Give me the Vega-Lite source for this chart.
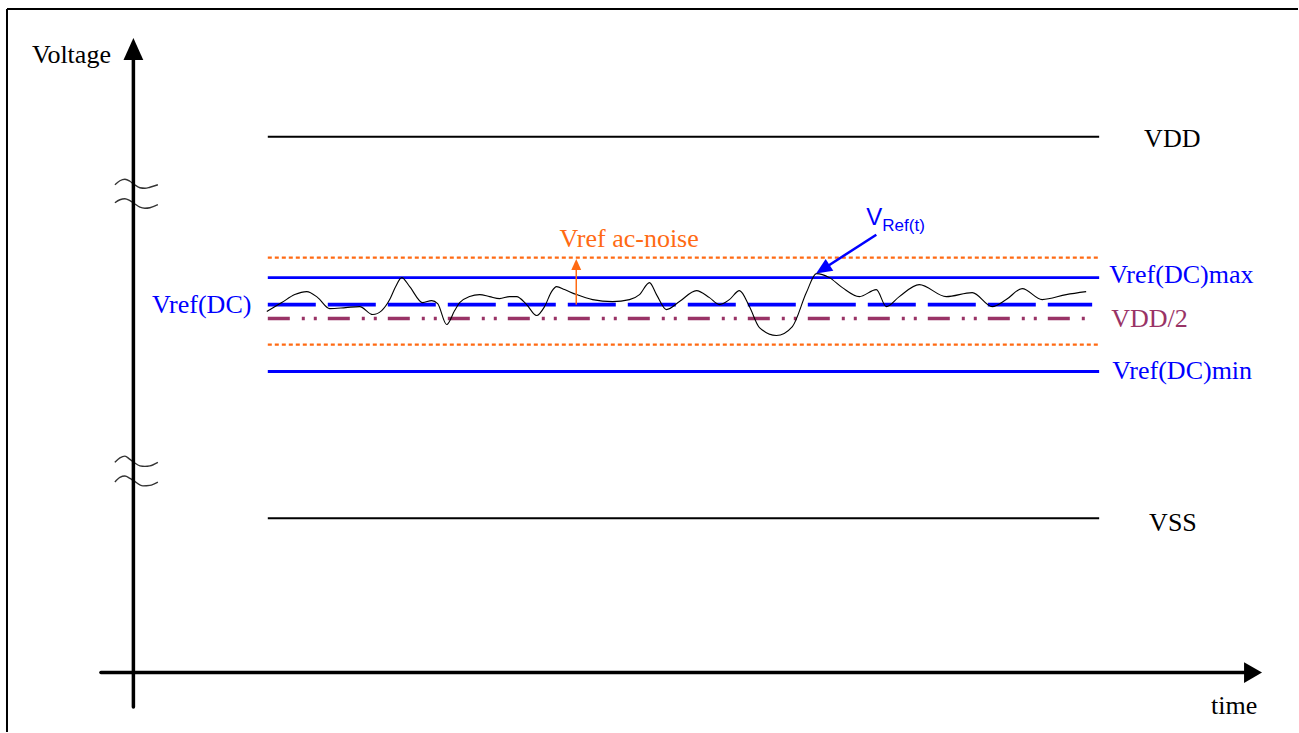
{
  "$schema": "https://vega.github.io/schema/vega-lite/v6.json",
  "width": 1299,
  "height": 733,
  "autosize": {"type": "fit", "contains": "padding"},
  "padding": 0,
  "background": "white",
  "config": {"view": {"stroke": null}},
  "datasets": {
    "levels": [
      {"level": "VDD", "t": 268, "t2": 1100, "v": 137},
      {"level": "VSS", "t": 268, "t2": 1100, "v": 519},
      {"level": "noise_hi", "t": 268, "t2": 1100, "v": 258},
      {"level": "noise_lo", "t": 268, "t2": 1100, "v": 345},
      {"level": "dc_max", "t": 268, "t2": 1100, "v": 278},
      {"level": "dc_min", "t": 268, "t2": 1100, "v": 372},
      {"level": "dc", "t": 268, "t2": 1093, "v": 305},
      {"level": "half", "t": 268, "t2": 1090, "v": 319}
    ],
    "vref": [
      {"t": 267, "v": 312}, {"t": 282, "v": 303}, {"t": 295, "v": 295}, {"t": 307, "v": 292},
      {"t": 318, "v": 298}, {"t": 330, "v": 309}, {"t": 346, "v": 308}, {"t": 360, "v": 307},
      {"t": 373, "v": 315}, {"t": 382, "v": 311}, {"t": 390, "v": 300}, {"t": 396, "v": 287},
      {"t": 402, "v": 278}, {"t": 410, "v": 287}, {"t": 423, "v": 303}, {"t": 432, "v": 301},
      {"t": 438, "v": 304}, {"t": 447, "v": 325}, {"t": 455, "v": 311}, {"t": 460, "v": 303},
      {"t": 470, "v": 297}, {"t": 480, "v": 295}, {"t": 490, "v": 297}, {"t": 500, "v": 299},
      {"t": 510, "v": 297}, {"t": 517, "v": 297}, {"t": 527, "v": 305}, {"t": 537, "v": 316},
      {"t": 545, "v": 307}, {"t": 552, "v": 292}, {"t": 557, "v": 287}, {"t": 565, "v": 290},
      {"t": 577, "v": 295}, {"t": 593, "v": 300}, {"t": 613, "v": 302}, {"t": 630, "v": 300},
      {"t": 640, "v": 295}, {"t": 650, "v": 283}, {"t": 657, "v": 295}, {"t": 667, "v": 310},
      {"t": 680, "v": 302}, {"t": 697, "v": 291}, {"t": 710, "v": 298}, {"t": 720, "v": 305},
      {"t": 730, "v": 300}, {"t": 740, "v": 291}, {"t": 750, "v": 307}, {"t": 760, "v": 328},
      {"t": 777, "v": 336}, {"t": 793, "v": 327}, {"t": 807, "v": 293}, {"t": 817, "v": 274},
      {"t": 830, "v": 278}, {"t": 843, "v": 288}, {"t": 860, "v": 297}, {"t": 877, "v": 290},
      {"t": 887, "v": 307}, {"t": 900, "v": 297}, {"t": 920, "v": 285}, {"t": 947, "v": 297},
      {"t": 973, "v": 293}, {"t": 993, "v": 307}, {"t": 1007, "v": 300}, {"t": 1023, "v": 289},
      {"t": 1043, "v": 300}, {"t": 1067, "v": 295}, {"t": 1087, "v": 292}
    ],
    "breaks": [
      {"id": "a", "t": 115, "v": 185}, {"id": "a", "t": 120, "v": 181}, {"id": "a", "t": 125, "v": 179.5},
      {"id": "a", "t": 130, "v": 181.5}, {"id": "a", "t": 134, "v": 184.5}, {"id": "a", "t": 140, "v": 188},
      {"id": "a", "t": 145, "v": 188.5}, {"id": "a", "t": 150, "v": 187.5}, {"id": "a", "t": 158, "v": 185},
      {"id": "b", "t": 115, "v": 203}, {"id": "b", "t": 120, "v": 200}, {"id": "b", "t": 125, "v": 199},
      {"id": "b", "t": 130, "v": 201}, {"id": "b", "t": 134, "v": 203.5}, {"id": "b", "t": 140, "v": 207.5},
      {"id": "b", "t": 145, "v": 208.5}, {"id": "b", "t": 150, "v": 208}, {"id": "b", "t": 158, "v": 205},
      {"id": "c", "t": 115, "v": 463}, {"id": "c", "t": 120, "v": 458.5}, {"id": "c", "t": 125, "v": 456.7},
      {"id": "c", "t": 130, "v": 460}, {"id": "c", "t": 134, "v": 463}, {"id": "c", "t": 140, "v": 466.5},
      {"id": "c", "t": 145, "v": 467}, {"id": "c", "t": 150, "v": 466.5}, {"id": "c", "t": 158, "v": 463},
      {"id": "d", "t": 115, "v": 482.7}, {"id": "d", "t": 120, "v": 478}, {"id": "d", "t": 125, "v": 476.7},
      {"id": "d", "t": 130, "v": 479}, {"id": "d", "t": 134, "v": 481.5}, {"id": "d", "t": 143, "v": 486.5},
      {"id": "d", "t": 150, "v": 486}, {"id": "d", "t": 158, "v": 482.7}
    ]
  },
  "encoding": {
    "x": {"field": "t", "type": "quantitative", "scale": {"domain": [0, 1299], "nice": false, "zero": false}, "axis": null},
    "y": {"field": "v", "type": "quantitative", "scale": {"domain": [0, 733], "reverse": true, "nice": false, "zero": false}, "axis": null}
  },
  "layer": [
    {"data": {"values": [{"t": 7, "t2": 1299, "v": 9}]}, "mark": {"type": "rule", "color": "black", "strokeWidth": 2}, "encoding": {"x2": {"field": "t2"}}},
    {"data": {"values": [{"t": 7, "v": 9, "v2": 733}]}, "mark": {"type": "rule", "color": "black", "strokeWidth": 2}, "encoding": {"y2": {"field": "v2"}}},
    {"data": {"name": "levels"}, "transform": [{"filter": "datum.level === 'VDD' || datum.level === 'VSS'"}], "mark": {"type": "rule", "color": "black", "strokeWidth": 2}, "encoding": {"x2": {"field": "t2"}}},
    {"data": {"name": "levels"}, "transform": [{"filter": "datum.level === 'noise_hi' || datum.level === 'noise_lo'"}], "mark": {"type": "rule", "color": "#ff6a13", "strokeWidth": 2.2, "strokeDash": [4, 3]}, "encoding": {"x2": {"field": "t2"}}},
    {"data": {"name": "levels"}, "transform": [{"filter": "datum.level === 'dc_max' || datum.level === 'dc_min'"}], "mark": {"type": "rule", "color": "#0000ff", "strokeWidth": 2.8}, "encoding": {"x2": {"field": "t2"}}},
    {"data": {"name": "levels"}, "transform": [{"filter": "datum.level === 'half'"}], "mark": {"type": "rule", "color": "#993366", "strokeWidth": 3.5, "strokeDash": [22, 12, 3, 9, 3, 11]}, "encoding": {"x2": {"field": "t2"}}},
    {"data": {"name": "levels"}, "transform": [{"filter": "datum.level === 'dc'"}], "mark": {"type": "rule", "color": "#0000ff", "strokeWidth": 3.8, "strokeDash": [48, 12]}, "encoding": {"x2": {"field": "t2"}}},
    {"data": {"name": "breaks"}, "mark": {"type": "line", "color": "#333333", "strokeWidth": 1.4, "interpolate": "monotone"}, "encoding": {"detail": {"field": "id"}}},
    {"data": {"values": [{"t": 133.5, "v": 55, "v2": 708}]}, "mark": {"type": "rule", "color": "black", "strokeWidth": 3.5, "strokeCap": "round"}, "encoding": {"y2": {"field": "v2"}}},
    {"data": {"values": [{"t": 101, "t2": 1250, "v": 673.5}]}, "mark": {"type": "rule", "color": "black", "strokeWidth": 3.5, "strokeCap": "round"}, "encoding": {"x2": {"field": "t2"}}},
    {"data": {"values": [{"t": 133.5, "v": 49}]}, "mark": {"type": "point", "filled": true, "opacity": 1, "color": "black", "strokeWidth": 0, "size": 484, "shape": "M0,-1L0.9,1L-0.9,1Z"}},
    {"data": {"values": [{"t": 1254, "v": 673.5}]}, "mark": {"type": "point", "filled": true, "opacity": 1, "color": "black", "strokeWidth": 0, "size": 324, "angle": 90, "shape": "M0,-1L1.15,1L-1.15,1Z"}},
    {"data": {"name": "vref"}, "mark": {"type": "line", "color": "black", "strokeWidth": 1.1, "interpolate": "monotone"}},
    {"data": {"values": [{"t": 576.7, "v": 305, "v2": 268}]}, "mark": {"type": "rule", "color": "#ff6a13", "strokeWidth": 1.5}, "encoding": {"y2": {"field": "v2"}}},
    {"data": {"values": [{"t": 576.7, "v": 264.8}]}, "mark": {"type": "point", "filled": true, "opacity": 1, "color": "#ff6a13", "strokeWidth": 0, "size": 121, "shape": "M0,-1L0.9,1L-0.9,1Z"}},
    {"data": {"values": [{"t": 877, "v": 235, "t2": 823.4, "v2": 269.6}]}, "mark": {"type": "rule", "color": "#0000ff", "strokeWidth": 2.5}, "encoding": {"x2": {"field": "t2"}, "y2": {"field": "v2"}}},
    {"data": {"values": [{"t": 823.4, "v": 269.6}]}, "mark": {"type": "point", "filled": true, "opacity": 1, "color": "#0000ff", "strokeWidth": 0, "size": 256, "angle": 237, "shape": "M0,-1L0.875,1L-0.875,1Z"}},
    {"data": {"values": [
      {"label": "Voltage", "t": 32, "v": 63},
      {"label": "time", "t": 1212, "v": 715},
      {"label": "VDD", "t": 1145, "v": 147},
      {"label": "VSS", "t": 1150, "v": 532}
    ]}, "mark": {"type": "text", "align": "left", "baseline": "alphabetic", "font": "Liberation Serif", "fontSize": 26, "color": "black"}, "encoding": {"text": {"field": "label"}}},
    {"data": {"values": [
      {"label": "Vref(DC)max", "t": 1110, "v": 283},
      {"label": "Vref(DC)min", "t": 1113, "v": 380},
      {"label": "Vref(DC)", "t": 152, "v": 313}
    ]}, "mark": {"type": "text", "align": "left", "baseline": "alphabetic", "font": "Liberation Serif", "fontSize": 26, "color": "#0000ff"}, "encoding": {"text": {"field": "label"}}},
    {"data": {"values": [{"label": "VDD/2", "t": 1112, "v": 327}]}, "mark": {"type": "text", "align": "left", "baseline": "alphabetic", "font": "Liberation Serif", "fontSize": 26, "color": "#993366"}, "encoding": {"text": {"field": "label"}}},
    {"data": {"values": [{"label": "Vref ac-noise", "t": 560, "v": 247}]}, "mark": {"type": "text", "align": "left", "baseline": "alphabetic", "font": "Liberation Serif", "fontSize": 26, "color": "#ff6a13"}, "encoding": {"text": {"field": "label"}}},
    {"data": {"values": [{"label": "V", "t": 867, "v": 225}]}, "mark": {"type": "text", "align": "left", "baseline": "alphabetic", "font": "Liberation Sans", "fontSize": 24, "color": "#0000ff"}, "encoding": {"text": {"field": "label"}}},
    {"data": {"values": [{"label": "Ref(t)", "t": 883, "v": 231}]}, "mark": {"type": "text", "align": "left", "baseline": "alphabetic", "font": "Liberation Sans", "fontSize": 17, "color": "#0000ff"}, "encoding": {"text": {"field": "label"}}}
  ]
}
